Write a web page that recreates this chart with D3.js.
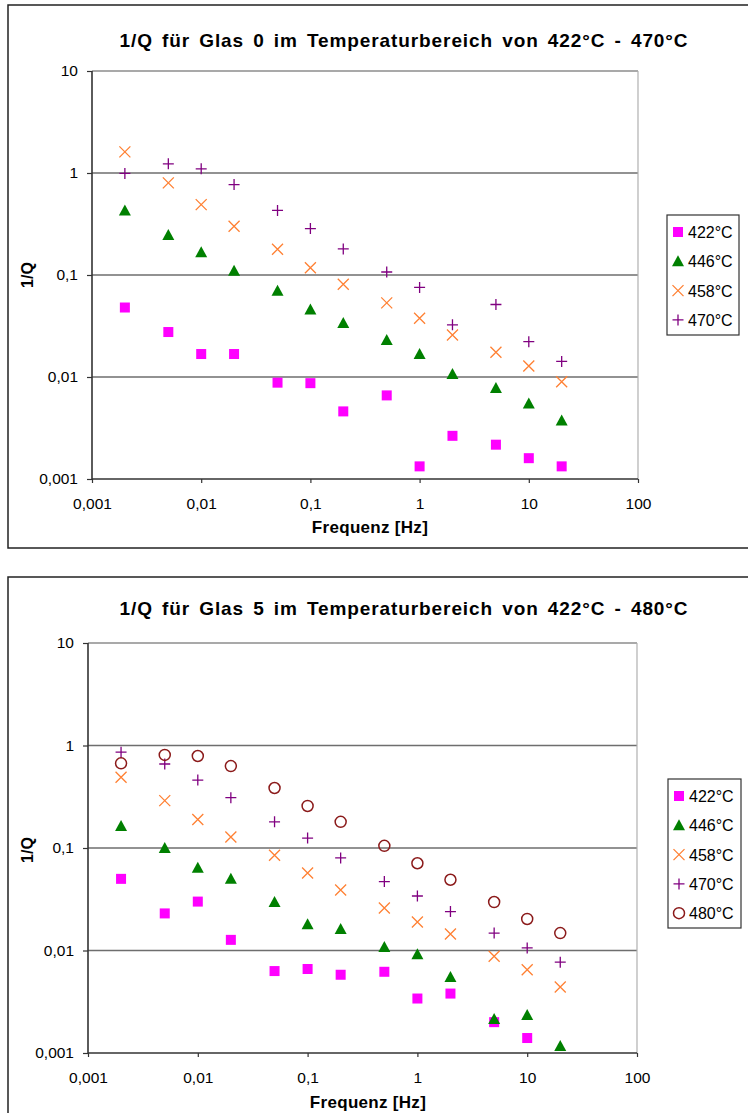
<!DOCTYPE html>
<html><head><meta charset="utf-8">
<script src="https://cdn.jsdelivr.net/npm/d3@7"></script>
<style>
html,body{margin:0;padding:0;background:#fff;}
svg{display:block;}
text{font-family:"Liberation Sans",Arial,sans-serif;}
</style></head>
<body>
<svg id="c" width="748" height="1113"></svg>
<script>
// ---- Data ----
const freqs = [0.002,0.005,0.01,0.02,0.05,0.1,0.2,0.5,1,2,5,10,20];
const xTicks = [0.001,0.01,0.1,1,10,100];
const yTicks = [0.001,0.01,0.1,1,10];
const tickLabels = ["0,001","0,01","0,1","1","10","100"];

// Glas 0
const g0_422 = [0.048,0.0276,0.0168,0.0168,0.0088,0.0087,0.0046,0.0066,0.00133,0.00265,0.00217,0.0016,0.00133];
const g0_446 = [0.43,0.247,0.167,0.11,0.070,0.046,0.0338,0.0231,0.0168,0.0107,0.0078,0.0055,0.00375];
const g0_458 = [1.61,0.80,0.49,0.30,0.179,0.118,0.081,0.0533,0.0376,0.0258,0.0175,0.0128,0.0090];
const g0_470 = [0.99,1.23,1.10,0.77,0.43,0.285,0.18,0.107,0.0755,0.0325,0.0514,0.0222,0.0142];

// Glas 5
const g5_422 = [0.050,0.023,0.030,0.0127,0.0063,0.0066,0.0058,0.0062,0.0034,0.0038,0.0020,0.0014,null];
const g5_446 = [0.164,0.10,0.064,0.050,0.0297,0.018,0.0162,0.0108,0.0092,0.0055,0.00215,0.00235,0.00117];
const g5_458 = [0.49,0.29,0.19,0.128,0.085,0.057,0.039,0.026,0.019,0.0145,0.0088,0.0065,0.0044];
const g5_470 = [0.86,0.66,0.46,0.31,0.18,0.125,0.080,0.047,0.034,0.024,0.0148,0.0106,0.0077];
const g5_480 = [0.67,0.81,0.79,0.63,0.385,0.257,0.18,0.105,0.071,0.049,0.0297,0.0203,0.0148];

const seriesNames0 = ["422°C","446°C","458°C","470°C"];
const seriesNames5 = ["422°C","446°C","458°C","470°C","480°C"];
const markerTypes = ["square","triangle","cross","plus","circle"];
const markerColors = ["#FF00FF","#008000","#FF8033","#800080","#8B1A1A"];

const svg = d3.select("#c");

function marker(g, type, color, x, y){
  if(type==="square"){
    g.append("rect").attr("x",x-5).attr("y",y-5).attr("width",10).attr("height",10).attr("fill",color);
  } else if(type==="triangle"){
    g.append("path").attr("d",`M${x},${y-6}L${x+6},${y+5}L${x-6},${y+5}Z`).attr("fill",color);
  } else if(type==="cross"){
    g.append("path").attr("d",`M${x-5.5},${y-5.5}L${x+5.5},${y+5.5}M${x+5.5},${y-5.5}L${x-5.5},${y+5.5}`)
      .attr("stroke",color).attr("stroke-width",1.3).attr("fill","none");
  } else if(type==="plus"){
    g.append("path").attr("d",`M${x-5.5},${y}L${x+5.5},${y}M${x},${y-5.5}L${x},${y+5.5}`)
      .attr("stroke",color).attr("stroke-width",1.3).attr("fill","none");
  } else if(type==="circle"){
    g.append("circle").attr("cx",x).attr("cy",y).attr("r",5.5)
      .attr("stroke",color).attr("stroke-width",1.5).attr("fill","none");
  }
}

function drawChart(cfg){
  const g = svg.append("g");
  // outer frame
  g.append("rect").attr("x",cfg.frame[0]).attr("y",cfg.frame[1]).attr("width",cfg.frame[2]).attr("height",cfg.frame[3])
    .attr("fill","none").attr("stroke","#222").attr("stroke-width",1.5);
  const x = d3.scaleLog().domain([0.001,100]).range([cfg.left,cfg.right]);
  const y = d3.scaleLog().domain([0.001,10]).range([cfg.bottom,cfg.top]);

  // title
  g.append("text").attr("x",cfg.titleX).attr("y",cfg.titleY).attr("text-anchor","middle")
    .attr("font-size",19).attr("font-weight","bold").attr("letter-spacing","0.9px").attr("word-spacing","3px").text(cfg.title);

  // gridlines
  yTicks.forEach(t=>{
    if(t===0.001) return;
    g.append("line").attr("x1",cfg.left).attr("x2",cfg.right).attr("y1",y(t)).attr("y2",y(t))
      .attr("stroke", t===10 ? "#8c8c8c" : "#6e6e6e").attr("stroke-width",t===10?1.3:1.6);
  });
  // right border
  g.append("line").attr("x1",cfg.right).attr("x2",cfg.right).attr("y1",cfg.top).attr("y2",cfg.bottom)
    .attr("stroke","#b0b0b0").attr("stroke-width",1.2);

  // axes
  const xAxis = d3.axisBottom(x).tickValues(xTicks).tickFormat((d,i)=>tickLabels[i]).tickSize(4).tickPadding(15);
  const yAxis = d3.axisLeft(y).tickValues(yTicks).tickFormat((d,i)=>tickLabels[i]).tickSize(5).tickPadding(9);
  const gx = g.append("g").attr("transform",`translate(0,${cfg.bottom})`).call(xAxis);
  const gy = g.append("g").attr("transform",`translate(${cfg.left},0)`).call(yAxis);
  [gx,gy].forEach(a=>{
    a.select(".domain").attr("stroke","#333").attr("stroke-width",1.6);
    a.selectAll(".tick line").attr("stroke","#333").attr("stroke-width",1.2);
    a.selectAll(".tick text").attr("font-size",15.5).attr("fill","#000")
      .attr("font-family","'Liberation Sans',Arial,sans-serif");
  });
  gx.select(".domain").attr("d",`M${cfg.left},0H${cfg.right}`);
  gy.select(".domain").attr("d",`M0,${cfg.bottom}V${cfg.top}`);

  // axis titles
  g.append("text").attr("x",cfg.xTitleX).attr("y",cfg.xTitleY).attr("text-anchor","middle")
    .attr("font-size",17).attr("font-weight","bold").attr("letter-spacing","0.3px").text("Frequenz [Hz]");
  g.append("text").attr("transform",`translate(${cfg.yTitleX},${cfg.yTitleY}) rotate(-90)`).attr("text-anchor","middle")
    .attr("font-size",16).attr("font-weight","bold").text("1/Q");

  // data
  const pts = g.append("g");
  cfg.series.forEach((s,si)=>{
    s.forEach((v,i)=>{
      if(v==null) return;
      marker(pts, markerTypes[si], markerColors[si], x(freqs[i]), y(v));
    });
  });

  // legend
  const lg = g.append("g");
  lg.append("rect").attr("x",cfg.legend[0]).attr("y",cfg.legend[1]).attr("width",cfg.legend[2]).attr("height",cfg.legend[3])
    .attr("fill","#fff").attr("stroke","#333").attr("stroke-width",1.2);
  cfg.names.forEach((n,i)=>{
    const ly = cfg.legend[1] + 17 + i*29.3;
    marker(lg, markerTypes[i], markerColors[i], cfg.legend[0]+11, ly);
    lg.append("text").attr("x",cfg.legend[0]+21).attr("y",ly+6).attr("font-size",16).text(n);
  });
}

drawChart({
  frame:[8,5,760,543],
  left:92,right:638,top:71,bottom:479,
  title:"1/Q für Glas 0 im Temperaturbereich von 422°C - 470°C",titleX:404,titleY:47,
  xTitleX:370,xTitleY:533,yTitleX:33,yTitleY:275,
  series:[g0_422,g0_446,g0_458,g0_470],names:seriesNames0,
  legend:[667,215,72,120]
});
drawChart({
  frame:[8,577,760,560],
  left:88,right:637,top:643,bottom:1053,
  title:"1/Q für Glas 5 im Temperaturbereich von 422°C - 480°C",titleX:404,titleY:615,
  xTitleX:368,xTitleY:1108,yTitleX:33,yTitleY:850,
  series:[g5_422,g5_446,g5_458,g5_470,g5_480],names:seriesNames5,
  legend:[668,779,73,149]
});
</script>
</body></html>
